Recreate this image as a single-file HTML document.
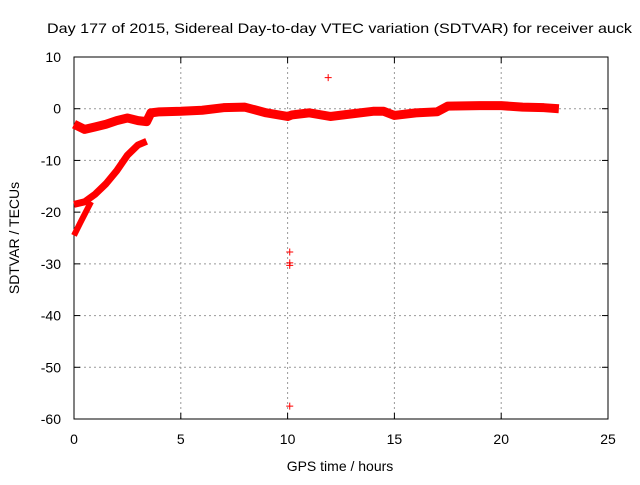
<!DOCTYPE html>
<html><head><meta charset="utf-8"><style>
body{margin:0;background:#fff;font-family:"Liberation Sans",sans-serif}
svg text{font-family:"Liberation Sans",sans-serif;font-size:14px;fill:#000}
</style></head><body>
<svg id="c" width="640" height="480"></svg>
<script>
const xTicks=[0,5,10,15,20,25];
const yTicks=[10,0,-10,-20,-30,-40,-50,-60];
const band1Hours=[0,0.5,1,1.5,2,2.5,3,3.4,3.6,4,5,6,7,8,9,10,10.2,11,12,13,14,14.5,15,16,17,17.5,19,20,21,22,22.7];
const band1Values=[-3,-4,-3.5,-3,-2.3,-1.8,-2.3,-2.5,-0.8,-0.6,-0.5,-0.3,0.2,0.3,-0.8,-1.5,-1.2,-0.8,-1.5,-1,-0.5,-0.5,-1.3,-0.8,-0.6,0.5,0.6,0.6,0.3,0.2,0];
const band2Hours=[0,0.5,1,1.5,2,2.5,3,3.4];
const band2Values=[-18.5,-18,-16.5,-14.5,-12,-9,-7,-6.3];
const band3Hours=[0,0.3,0.8];
const band3Values=[-24.5,-22,-18];
const outlierHours=[10.1,10.1,10.1,10.1,11.9];
const outlierValues=[-27.7,-29.8,-30.3,-57.5,6];
const X=h=>74+h*(608-74)/25, Y=v=>57+(10-v)*(419-57)/70;
const svg=document.getElementById('c');const NS='http://www.w3.org/2000/svg';
function mk(t,a,p){const e=document.createElementNS(NS,t);for(const k in a)e.setAttribute(k,a[k]);(p||svg).appendChild(e);return e;}
xTicks.forEach(t=>{
 if(t>0&&t<25){const g=mk('line',{x1:X(t),x2:X(t),y1:57,y2:419,stroke:'#999','stroke-dasharray':'2,3'});
 
 }
 const l=mk('text',{x:X(t),y:444,'text-anchor':'middle'});l.textContent=t;
 
 
 mk('line',{x1:X(t),x2:X(t),y1:419,y2:413,stroke:'#000'});mk('line',{x1:X(t),x2:X(t),y1:57,y2:63,stroke:'#000'});
});
yTicks.forEach(t=>{
 if(t<10&&t>-60){const g=mk('line',{x1:74,x2:608,y1:Y(t),y2:Y(t),stroke:'#999','stroke-dasharray':'2,3'});
 
 }
 const l=mk('text',{x:61,y:Y(t)+5,'text-anchor':'end'});l.textContent=t;
 
 
 mk('line',{x1:74,x2:80,y1:Y(t),y2:Y(t),stroke:'#000'});mk('line',{x1:608,x2:602,y1:Y(t),y2:Y(t),stroke:'#000'});
});
const fr=mk('rect',{x:74,y:57,width:534,height:362,fill:'none',stroke:'#000'});


function band(hs,vs,name,w){
 const p=mk('polyline',{points:hs.map((h,i)=>X(h)+','+Y(vs[i])).join(' '),fill:'none',stroke:'#f00','stroke-width':w,'stroke-linejoin':'round'});
 
 
}
band(band1Hours,band1Values,'sdtvar-band-main',9);
band(band2Hours,band2Values,'sdtvar-band-rising',7);
band(band3Hours,band3Values,'sdtvar-band-low',6);
outlierHours.forEach((h,i)=>{
 const x=X(h),y=Y(outlierValues[i]);
 const p=mk('path',{d:`M${x-3.5},${y}H${x+3.5}M${x},${y-3.5}V${y+3.5}`,stroke:'#f00','stroke-width':1});
 
 
});
const t=mk('text',{x:47,y:33,textLength:585,lengthAdjust:'spacingAndGlyphs'});t.textContent='Day 177 of 2015, Sidereal Day-to-day VTEC variation (SDTVAR) for receiver auck';


const xt=mk('text',{x:340,y:471,'text-anchor':'middle'});xt.textContent='GPS time / hours';


const yt=mk('text',{x:0,y:0,'text-anchor':'middle',transform:'translate(19,238) rotate(-90)'});yt.textContent='SDTVAR / TECUs';


</script></body></html>
